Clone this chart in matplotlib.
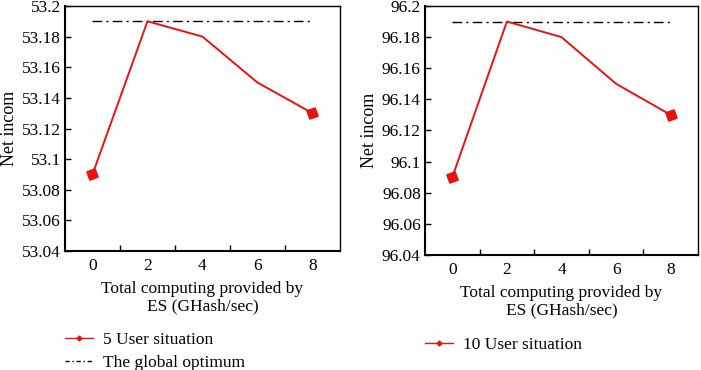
import matplotlib
matplotlib.use("Agg")
from matplotlib import pyplot as plt
from matplotlib.lines import Line2D

plt.rcParams['font.family'] = ['Liberation Serif', 'DejaVu Serif']

x_labels = ["0", "2", "4", "6", "8"]
income_5 = [53.09, 53.19, 53.18, 53.15, 53.13]
income_10 = [96.09, 96.19, 96.18, 96.15, 96.13]
optimum_5 = 53.19
optimum_10 = 96.19
yticks_5 = [53.04, 53.06, 53.08, 53.1, 53.12, 53.14, 53.16, 53.18, 53.2]
yticks_10 = [96.04, 96.06, 96.08, 96.1, 96.12, 96.14, 96.16, 96.18, 96.2]

red = "#e8130f"
mk = (4, 0, 65)

fig = plt.figure(figsize=(7.01, 3.70), dpi=100)
ax1 = fig.add_axes([0.0927, 0.3216, 0.3923, 0.6622])
ax2 = fig.add_axes([0.6063, 0.3108, 0.3894, 0.6730])


def draw(ax, vals, opt, yt, with_opt_legend, label, leg_y):
    pos = list(range(len(vals)))
    ax.plot(pos, [opt] * len(pos), color="black", linestyle=(0, (7, 3, 1.5, 3)),
            linewidth=1)
    ax.plot(pos, vals, color=red, linewidth=1.4, marker=mk, markersize=9,
            markevery=[0, len(vals) - 1])
    ax.set_xlim(-0.5, len(vals) - 0.5)
    ax.set_ylim(yt[0], yt[-1])
    ax.set_xticks(pos)
    ax.set_xticklabels(x_labels)
    ax.set_xticks([p + 0.5 for p in pos[:-1]], minor=True)
    ax.tick_params(axis="x", which="major", length=0, pad=5, labelsize=12.5)
    ax.tick_params(axis="x", which="minor", direction="in", length=4, width=1)
    ax.set_yticks(yt)
    ax.set_yticklabels([f"{v:g}" for v in yt])
    ax.tick_params(axis="y", direction="in", length=4, width=1, labelsize=12.5, pad=3)
    for s in ax.spines.values():
        s.set_linewidth(1)
    ax.spines["left"].set_linewidth(1.5)
    ax.spines["bottom"].set_linewidth(1.5)
    ax.set_ylabel("Net incom", fontsize=13, labelpad=3)
    ax.set_xlabel("Total computing provided by\nES (GHash/sec)", fontsize=12.5,
                  labelpad=5, linespacing=1.1)

    handles = [Line2D([0, 1], [0, 0], color=red, linewidth=1, marker="D",
                      markersize=2.5, markevery=[0, 1])]
    labels = [label]
    if with_opt_legend:
        handles.append(Line2D([0, 1], [0, 0], color="black", linewidth=1,
                              linestyle=(0, (3, 2, 1, 2))))
        labels.append("The global optimum")
    ax.legend(handles, labels, loc="upper left", bbox_to_anchor=(0.0, leg_y),
              frameon=False, fontsize=12.5, handlelength=1.6, handletextpad=0.6,
              labelspacing=0.4, borderaxespad=0, borderpad=0)


draw(ax1, income_5, optimum_5, yticks_5, True, "5 User situation", -0.33)
draw(ax2, income_10, optimum_10, yticks_10, False, "10 User situation", -0.33)

fig.savefig("out.png", dpi=100)
